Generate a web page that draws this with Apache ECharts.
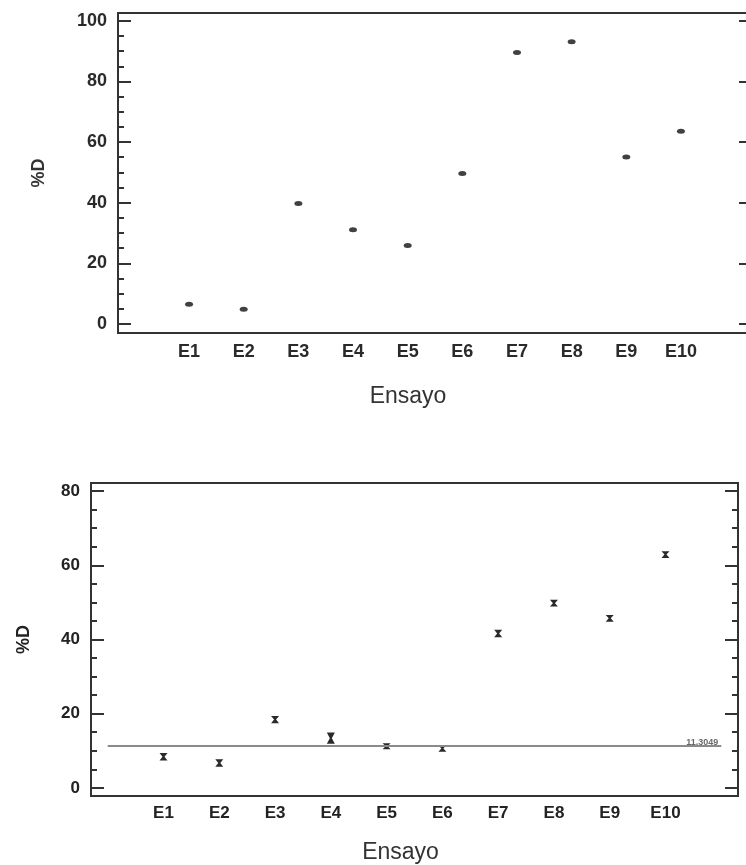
<!DOCTYPE html>
<html>
<head>
<meta charset="utf-8">
<script src="https://cdn.jsdelivr.net/npm/echarts@6/dist/echarts.min.js"></script>
<style>
  html, body { margin: 0; padding: 0; background: #fff; }
  #chart { width: 746px; height: 865px; }
</style>
</head>
<body>
<div id="chart"></div>
<script>
// datos
const categories = ['E1', 'E2', 'E3', 'E4', 'E5', 'E6', 'E7', 'E8', 'E9', 'E10'];
const topValues = [6.5, 4.8, 39.7, 31.1, 25.9, 49.6, 89.6, 93.1, 55.1, 63.6];
const bottomValues = [8.4, 6.7, 18.4, 13.4, 11.2, 10.6, 41.6, 49.8, 45.7, 62.9];
const bottomErrors = [1.0, 1.0, 1.0, 1.5, 0.8, 0.9, 1.0, 0.9, 0.9, 0.9];
const refValue = 11.3;
const refLabel = '11,3049';
const topMajorTicks = [0, 20, 40, 60, 80, 100];
const topMinorTicks = [0, 5, 10, 15, 20, 25, 30, 35, 40, 45, 50, 55, 60, 65, 70, 75, 80, 85, 90, 95, 100];
const bottomMajorTicks = [0, 20, 40, 60, 80];
const bottomMinorTicks = [0, 5, 10, 15, 20, 25, 30, 35, 40, 45, 50, 55, 60, 65, 70, 75, 80];
const xPositions = categories.map((c, i) => i + 1);

const FONT = 'Liberation Sans, Arial, sans-serif';
const chart = echarts.init(document.getElementById('chart'));

// eje y con ticks hacia dentro (mayores o menores)
function yAxis(gridIndex, min, max, ticks, len, position, labelCfg, name) {
  return {
    type: 'value',
    gridIndex: gridIndex,
    position: position,
    min: min,
    max: max,
    name: name ? name.text : '',
    nameLocation: 'middle',
    nameGap: name ? name.gap : 0,
    nameRotate: 90,
    nameTextStyle: name ? name.style : {},
    axisLine: { show: false, onZero: false },
    splitLine: { show: false },
    axisTick: {
      show: true,
      inside: true,
      length: len,
      customValues: ticks,
      lineStyle: { color: '#333', width: 2 }
    },
    axisLabel: labelCfg || { show: false }
  };
}

function xAxis(gridIndex, labelStyle, margin, nameGap, namePad) {
  return {
    type: 'value',
    gridIndex: gridIndex,
    min: -0.3,
    max: 11.3,
    name: 'Ensayo',
    nameLocation: 'middle',
    nameGap: nameGap,
    nameTextStyle: { fontFamily: FONT, fontSize: 23, color: '#333', padding: namePad },
    axisLine: { show: false, onZero: false },
    axisTick: { show: false },
    splitLine: { show: false },
    axisLabel: Object.assign({
      customValues: xPositions,
      margin: margin,
      formatter: v => categories[Math.round(v) - 1]
    }, labelStyle)
  };
}

const topLabel = { fontFamily: FONT, fontSize: 18, fontWeight: 'bold', color: '#2a2a2a' };
const bottomLabel = { fontFamily: FONT, fontSize: 17, fontWeight: 'bold', color: '#222' };

chart.setOption({
  animation: false,
  grid: [
    { left: 118, top: 13, width: 634, height: 320, show: true, borderColor: '#333', borderWidth: 2, outerBoundsMode: 'none' },
    { left: 91, top: 483, width: 647, height: 313, show: true, borderColor: '#333', borderWidth: 2, outerBoundsMode: 'none' }
  ],
  xAxis: [
    xAxis(0, topLabel, 10, 52, [0, 54, 0, 0]),
    xAxis(1, bottomLabel, 9, 45, [0, 28, 0, 0])
  ],
  yAxis: [
    yAxis(0, -3, 102.6, topMajorTicks, 13, 'left',
      Object.assign({ customValues: topMajorTicks, margin: 11 }, topLabel),
      { text: '%D', gap: 70, style: { fontFamily: FONT, fontSize: 18, fontWeight: 'bold', color: '#333' } }),
    yAxis(0, -3, 102.6, topMinorTicks, 6, 'left'),
    yAxis(0, -3, 102.6, topMajorTicks, 13, 'right'),
    yAxis(0, -3, 102.6, topMinorTicks, 6, 'right'),
    yAxis(1, -2.2, 82.2, bottomMajorTicks, 13, 'left',
      Object.assign({ customValues: bottomMajorTicks, margin: 11 }, bottomLabel),
      { text: '%D', gap: 58, style: { fontFamily: FONT, fontSize: 18, fontWeight: 'bold', color: '#222' } }),
    yAxis(1, -2.2, 82.2, bottomMinorTicks, 6, 'left'),
    yAxis(1, -2.2, 82.2, bottomMajorTicks, 13, 'right'),
    yAxis(1, -2.2, 82.2, bottomMinorTicks, 6, 'right')
  ],
  series: [
    {
      type: 'scatter',
      xAxisIndex: 0,
      yAxisIndex: 0,
      symbol: 'circle',
      symbolSize: [8, 5],
      itemStyle: { color: '#111' },
      data: topValues.map((v, i) => [xPositions[i], v])
    },
    {
      type: 'line',
      xAxisIndex: 1,
      yAxisIndex: 4,
      symbol: 'none',
      lineStyle: { color: '#8a8a8a', width: 2 },
      data: [[0, refValue], [11, refValue]]
    },
    {
      // etiqueta de la linea de referencia
      type: 'scatter',
      xAxisIndex: 1,
      yAxisIndex: 4,
      symbolSize: 0,
      silent: true,
      data: [[11, refValue]],
      label: {
        show: true,
        position: 'left',
        distance: 3,
        offset: [0, -3],
        formatter: refLabel,
        fontFamily: FONT,
        fontSize: 9,
        fontWeight: 'bold',
        color: '#444'
      }
    },
    {
      type: 'custom',
      xAxisIndex: 1,
      yAxisIndex: 4,
      data: bottomValues.map((v, i) => [xPositions[i], v, bottomErrors[i]]),
      renderItem: function (params, api) {
        const x = api.value(0);
        const y = api.value(1);
        const e = api.value(2);
        const c = api.coord([x, y]);
        const t = api.coord([x, y + e]);
        const b = api.coord([x, y - e]);
        const w = 4;
        return {
          type: 'polygon',
          shape: {
            points: [
              [c[0] - w, t[1]], [c[0] + w, t[1]], [c[0] + 1, c[1]],
              [c[0] + w, b[1]], [c[0] - w, b[1]], [c[0] - 1, c[1]]
            ]
          },
          style: { fill: '#2a2a2a' }
        };
      }
    }
  ]
});
</script>
</body>
</html>
